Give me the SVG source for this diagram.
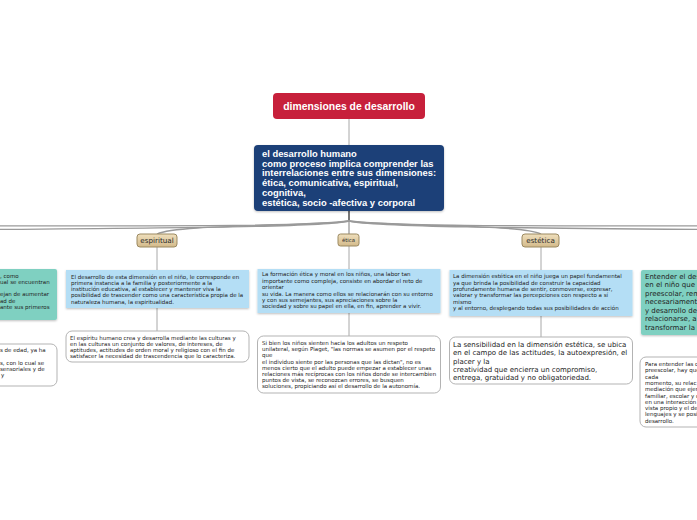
<svg xmlns="http://www.w3.org/2000/svg" width="697" height="520" viewBox="0 0 697 520">
<defs>
<linearGradient id="tan" x1="0" y1="0" x2="0" y2="1">
<stop offset="0" stop-color="#efdfbd"/>
<stop offset="1" stop-color="#d3ba8a"/>
</linearGradient>
<filter id="sh" x="-5%" y="-10%" width="110%" height="130%">
<feDropShadow dx="0" dy="1" stdDeviation="0.8" flood-color="#000" flood-opacity="0.25"/>
</filter>
</defs>
<style>
text{font-family:"Liberation Sans",Arial,sans-serif;}
.t{font-size:10.4px;font-weight:bold;fill:#fff;}
.m{font-size:9.4px;font-weight:bold;fill:#fff;}
.s{font-family:"DejaVu Sans",Verdana,sans-serif;font-size:5.5px;fill:#222;}
.l{font-family:"DejaVu Sans",Verdana,sans-serif;font-size:7px;fill:#222;}
.tp{font-family:"DejaVu Sans",Verdana,sans-serif;font-size:7.2px;fill:#2a2a2a;}
.blue{fill:#b4def5;}
.teal{fill:#7fd0c1;}
.wht{fill:#fff;stroke:#b3b3b3;stroke-width:1;}
.topic{fill:url(#tan);stroke:#9b8961;stroke-width:1;}
.c{fill:none;stroke:#9a9a9a;stroke-width:1.3;}
.v{fill:none;stroke:#a8a8a8;stroke-width:1;}
</style>
<rect width="697" height="520" fill="#fff"/>
<g id="connectors">
<path class="v" d="M349,119 V145"/>
<path d="M349,211 V221" fill="none" stroke="#555" stroke-width="1.6"/>
<path class="c" d="M349,221 C320,226 220,226 -100,226"/>
<path class="c" d="M349,221 C320,228 150,228 -300,232"/>
<path class="c" d="M349,221 C300,227 178,224 157,234"/>
<path class="c" d="M349,221 V234"/>
<path class="c" d="M349,221 C398,227 520,224 541,234"/>
<path class="c" d="M349,221 C378,226 478,226 800,226"/>
<path class="c" d="M349,221 C378,228 548,228 1000,232"/>
<path class="v" d="M157,247 V270 M157,308 V331"/>
<path class="v" d="M349,246 V269 M349,313 V336"/>
<path class="v" d="M541,247 V270 M541,316 V337"/>
</g>
<g id="title">
<rect x="273" y="93" width="152" height="26" rx="4" fill="#c7203b"/>
<text class="t" x="349" y="110" text-anchor="middle">dimensiones de desarrollo</text>
</g>
<g id="main">
<rect x="254" y="145" width="190" height="66" rx="4" fill="#1b3f78" filter="url(#sh)"/>
<text class="m" x="262" y="157">el desarrollo humano</text>
<text class="m" x="262" y="166.7">como proceso implica comprender las</text>
<text class="m" x="262" y="176.4">interrelaciones entre sus dimensiones:</text>
<text class="m" x="262" y="186.1">ética, comunicativa, espiritual,</text>
<text class="m" x="262" y="195.8">cognitiva,</text>
<text class="m" x="262" y="205.5">estética, socio -afectiva y corporal</text>
</g>
<g id="left-teal">
<rect x="-130" y="269" width="187" height="51" rx="2" class="teal" filter="url(#sh)"/>
<text class="s" x="0" y="277.5">, como</text>
<text class="s" x="0" y="283.8">ual se encuentran</text>
<text class="s" x="0" y="296.4">ejan de aumentar</text>
<text class="s" x="0" y="302.7">ad de</text>
<text class="s" x="0" y="309">ante sus primeros</text>
</g>
<g id="left-white">
<rect x="-130" y="344" width="187" height="42" rx="6" class="wht"/>
<text class="s" x="0" y="352">s de edad, ya ha</text>
<text class="s" x="0" y="364.6">s, con lo cual se</text>
<text class="s" x="0" y="370.9">sensoriales y de</text>
<text class="s" x="1" y="377.2">y</text>
</g>
<g id="espiritual">
<rect x="137" y="234" width="40" height="13" rx="3" class="topic"/>
<text class="tp" x="157" y="243.3" text-anchor="middle">espiritual</text>
</g>
<g id="espiritual-info">
<rect x="66" y="270" width="183" height="38" class="blue" filter="url(#sh)"/>
<text class="s" x="71" y="278.7">El desarrollo de esta dimensión en el niño, le corresponde en</text>
<text class="s" x="71" y="284.9">primera instancia a la familia y posteriormente a la</text>
<text class="s" x="71" y="291.1">institución educativa, al establecer y mantener viva la</text>
<text class="s" x="71" y="297.3">posibilidad de trascender como una característica propia de la</text>
<text class="s" x="71" y="303.5">naturaleza humana, la espiritualidad.</text>
</g>
<g id="espiritual-note">
<rect x="66" y="331" width="183" height="31" rx="6" class="wht"/>
<text class="s" x="70" y="339.5">El espíritu humano crea y desarrolla mediante las culturas y</text>
<text class="s" x="70" y="345.8">en las culturas un conjunto de valores, de intereses, de</text>
<text class="s" x="70" y="352.1">aptitudes, actitudes de orden moral y religioso con el fin de</text>
<text class="s" x="70" y="358.4">satisfacer la necesidad de trascendencia que lo caracteriza.</text>
</g>
<g id="etica">
<rect x="338" y="234" width="21" height="12" rx="2.5" class="topic"/>
<text class="tp" x="348.5" y="242" text-anchor="middle" style="font-size:5.3px">ética</text>
</g>
<g id="etica-info">
<rect x="257.5" y="269" width="183" height="44" class="blue" filter="url(#sh)"/>
<text class="s" x="262" y="276.3">La formación ética y moral en los niños, una labor tan</text>
<text class="s" x="262" y="282.7">importante como compleja, consiste en abordar el reto de</text>
<text class="s" x="262" y="289.1">orientar</text>
<text class="s" x="262" y="295.5">su vida. La manera como ellos se relacionarán con su entorno</text>
<text class="s" x="262" y="301.9">y con sus semejantes, sus apreciaciones sobre la</text>
<text class="s" x="262" y="308.3">sociedad y sobre su papel en ella, en fin, aprender a vivir.</text>
</g>
<g id="etica-note">
<rect x="257.5" y="336" width="183" height="57" rx="6" class="wht"/>
<text class="s" x="262" y="345">Si bien los niños sienten hacia los adultos un  respeto</text>
<text class="s" x="262" y="351.2">unilateral, según Piaget, "las normas se asumen por el respeto</text>
<text class="s" x="262" y="357.4">que</text>
<text class="s" x="262" y="363.6">el individuo siente por las personas que las dictan", no es</text>
<text class="s" x="262" y="369.8">menos cierto que el adulto puede empezar a establecer unas</text>
<text class="s" x="262" y="376">relaciones más recíprocas con los niños donde se intercambien</text>
<text class="s" x="262" y="382.2">puntos de vista, se reconozcan errores, se busquen</text>
<text class="s" x="262" y="388.4">soluciones, propiciando así el desarrollo de la autonomía.</text>
</g>
<g id="estetica">
<rect x="522" y="234" width="37" height="13" rx="3" class="topic"/>
<text class="tp" x="540.5" y="243.3" text-anchor="middle">estética</text>
</g>
<g id="estetica-info">
<rect x="449.5" y="270" width="183" height="46" class="blue" filter="url(#sh)"/>
<text class="s" x="453" y="278.3">La dimensión estética en el niño juega un papel fundamental</text>
<text class="s" x="453" y="284.6">ya que brinda la posibilidad de construir la capacidad</text>
<text class="s" x="453" y="290.9">profundamente humana de sentir, conmoverse, expresar,</text>
<text class="s" x="453" y="297.2">valorar y transformar las percepciones con respecto a sí</text>
<text class="s" x="453" y="303.5">mismo</text>
<text class="s" x="453" y="309.8">y al entorno, desplegando todas sus posibilidades de acción</text>
</g>
<g id="estetica-note">
<rect x="449.5" y="337" width="183" height="47" rx="6" class="wht"/>
<text class="l" x="453" y="347.1">La sensibilidad en la dimensión estética, se ubica</text>
<text class="l" x="453" y="355.3">en el campo de las actitudes, la autoexpresión, el</text>
<text class="l" x="453" y="363.5">placer y la</text>
<text class="l" x="453" y="371.7">creatividad que encierra un compromiso,</text>
<text class="l" x="453" y="379.9">entrega, gratuidad y no obligatoriedad.</text>
</g>
<g id="right-teal">
<rect x="641" y="270" width="183" height="65" rx="2" class="teal" filter="url(#sh)"/>
<text class="l" x="645" y="278.6">Entender el des</text>
<text class="l" x="645" y="287.1">en el niño que</text>
<text class="l" x="645" y="295.6">preescolar, rem</text>
<text class="l" x="645" y="304.1">necesariamente</text>
<text class="l" x="645" y="312.6">y desarrollo de</text>
<text class="l" x="645" y="321.1">relacionarse, a</text>
<text class="l" x="645" y="329.6">transformar la</text>
</g>
<g id="right-white">
<rect x="640" y="357" width="183" height="70" rx="6" class="wht"/>
<text class="s" x="645" y="366">Para entender las c</text>
<text class="s" x="645" y="372.3">preescolar, hay que</text>
<text class="s" x="645" y="378.6">cada</text>
<text class="s" x="645" y="384.9">momento, su relac</text>
<text class="s" x="645" y="391.2">mediación que ejer</text>
<text class="s" x="645" y="397.5">familiar, escolar y c</text>
<text class="s" x="645" y="403.8">en una interacción</text>
<text class="s" x="645" y="410.1">vista propio y el de</text>
<text class="s" x="645" y="416.4">lenguajes y se posi</text>
<text class="s" x="645" y="422.7">desarrollo.</text>
</g>
</svg>
